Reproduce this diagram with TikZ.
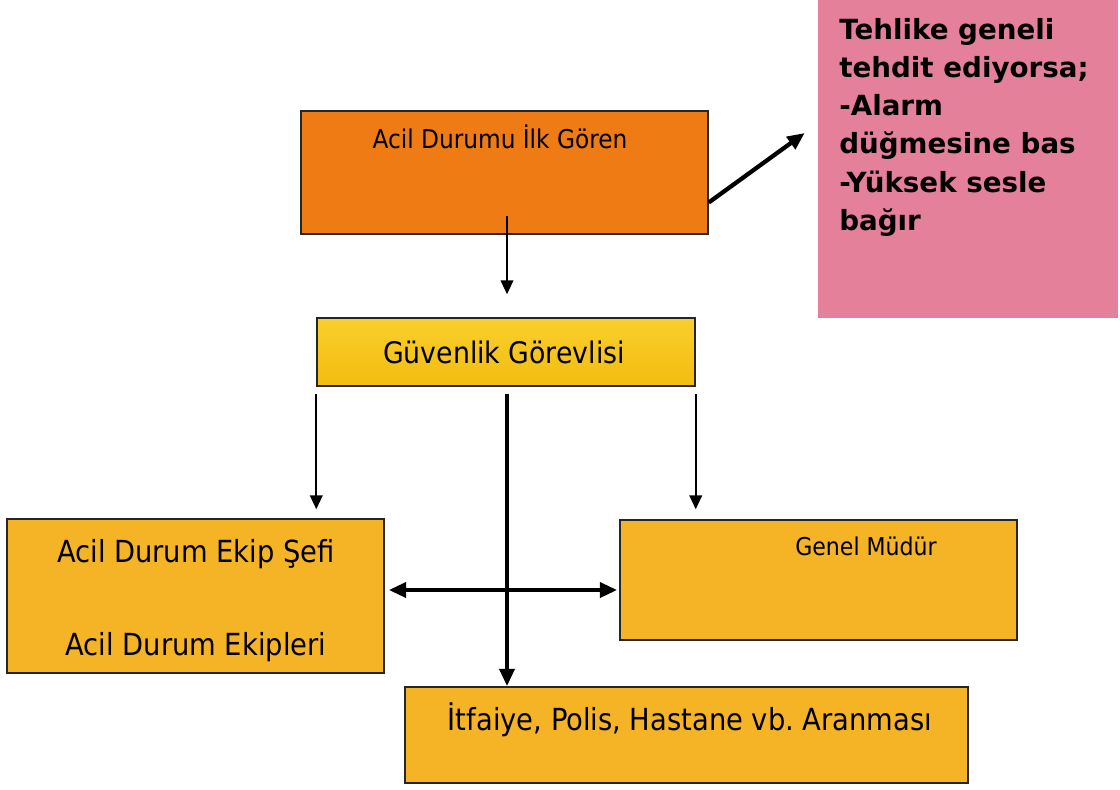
\documentclass[tikz,border=0pt]{standalone}
\usepackage{fontspec}
\setmainfont{DejaVu Sans Condensed}
\newfontfamily\notefont{DejaVu Sans}
\usetikzlibrary{arrows.meta,calc,positioning}

\definecolor{seencol}{HTML}{EF7B14}
\definecolor{notecol}{HTML}{E4809A}
\definecolor{guardtop}{HTML}{F9CF2C}
\definecolor{guardbot}{HTML}{F3BC10}
\definecolor{boxcol}{HTML}{F5B425}

\tikzset{
  box/.style={draw=black!85, line width=1.1pt, rectangle, inner sep=0pt},
  big/.style={anchor=base, font=\fontsize{22.8}{26}\selectfont},
  small/.style={anchor=base, font=\fontsize{19}{22}\selectfont},
  thinarrow/.style={-{Triangle[length=10.5pt,width=9.5pt]}, line width=1.4pt},
  thickarrow/.style={-{Triangle[length=13pt,width=11pt]}, line width=3.2pt},
  both/.style={{Triangle[length=13pt,width=11pt]}-{Triangle[length=13pt,width=11pt]}, line width=3.2pt},
}

\begin{document}
\begin{tikzpicture}[x=0.75pt,y=-0.75pt]
  \useasboundingbox[fill=white] (0,0) rectangle (1120,789);

  \node[box, fill=seencol, minimum width=305.25pt, minimum height=92.25pt] (seen) at (504.5,172.5) {};
  \node[small, font=\fontsize{19.4}{22}\selectfont] (seentxt) at (500,148) {Acil Durumu İlk Gören};

  \node[rectangle, fill=notecol, minimum width=225pt, minimum height=238.5pt] (note) at (968,159) {};
  \node[anchor=north west, align=left, inner sep=0pt,
        font=\notefont\bfseries\fontsize{20.8}{28.65}\selectfont] (notetxt) at (839,18)
    {Tehlike geneli\\tehdit ediyorsa;\\-Alarm\\düğmesine bas\\-Yüksek sesle\\bağır};

  \node[box, top color=guardtop, bottom color=guardbot, minimum width=283.5pt, minimum height=51pt] (guard) at (506,352) {};
  \node[big, font=\fontsize{22.3}{26}\selectfont] (guardtxt) at (504,363) {Güvenlik Görevlisi};

  \node[box, fill=boxcol, minimum width=282.75pt, minimum height=115.5pt] (team) at (195.5,596) {};
  \node[big] (chief) at (196,562) {Acil Durum Ekip Şefi};
  \node[big] (crews) at (196,655) {Acil Durum Ekipleri};

  \node[box, fill=boxcol, minimum width=297.75pt, minimum height=90pt] (boss) at (818.5,580) {};
  \node[small, font=\fontsize{18.4}{22}\selectfont] (bosstxt) at (866,555) {Genel Müdür};

  \node[box, fill=boxcol, minimum width=422.25pt, minimum height=72pt] (calls) at (686.5,735) {};
  \node[big] (callstxt) at (690,730) {İtfaiye, Polis, Hastane vb.\ Aranması};

  \coordinate (cross) at (507,590);

  \draw[thickarrow] ($(seen.east)+(0,30)$) -- ($(note.west)+(-13,-26)$);
  \draw[thinarrow] ($(seen.south)+(2.5,-19)$) -- ($(guard.north)+(1,-23)$);
  \draw[thinarrow] ($(guard.south west)+(0,7)$) -- ($(guard.south west |- team.north)+(0,-9)$);
  \draw[thinarrow] ($(guard.south east)+(0,7)$) -- ($(guard.south east |- boss.north)+(0,-10)$);
  \draw[thickarrow] ($(guard.south)+(1,7)$) -- (cross |- calls.north);
  \draw[both] ($(team.east |- cross)+(4,0)$) -- ($(boss.west |- cross)+(-2,0)$);
\end{tikzpicture}
\end{document}
